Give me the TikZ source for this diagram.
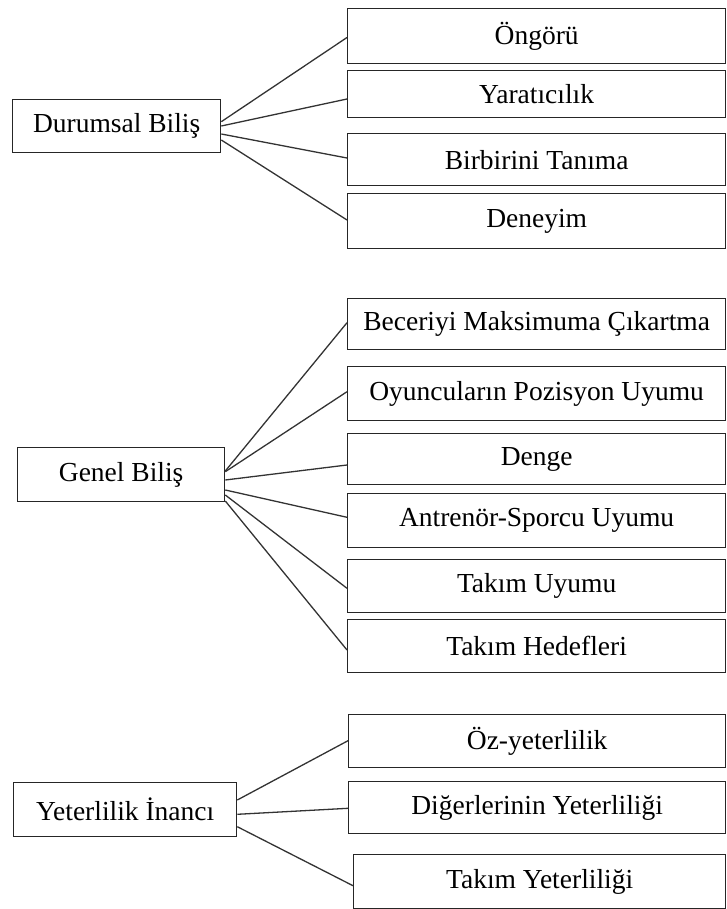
\documentclass[tikz,border=0pt]{standalone}
\usepackage{fontspec}
\setmainfont{Liberation Serif}
\begin{document}
\begin{tikzpicture}[x=1pt,y=-1pt,
  every node/.style={font=\fontsize{27.5}{33}\selectfont},
  box/.style={draw=black!85,line width=1.3pt,rectangle,anchor=north west,inner sep=0pt},
  link/.style={draw=black!80,line width=1.3pt}]
\useasboundingbox (0,0) rectangle (726,909);
% group 1
\node[box,minimum width=208pt,minimum height=53pt] (dur) at (12,99) {Durumsal Biliş};
\node[box,minimum width=378pt,minimum height=55pt] (ong) at (347,8) {Öngörü};
\node[box,minimum width=378pt,minimum height=47pt] (yar) at (347,70) {Yaratıcılık};
\node[box,minimum width=378pt,minimum height=52pt] (bir) at (347,133) {Birbirini Tanıma};
\node[box,minimum width=378pt,minimum height=55pt] (den) at (347,193) {Deneyim};
\draw[link] ([yshift=-22.7pt]dur.north east) -- ([yshift=-29.5pt]ong.north west);
\draw[link] ([yshift=-27pt]dur.north east) -- ([yshift=-29pt]yar.north west);
\draw[link] ([yshift=-35pt]dur.north east) -- ([yshift=-25pt]bir.north west);
\draw[link] ([yshift=-41pt]dur.north east) -- ([yshift=-27pt]den.north west);
% group 2
\node[box,minimum width=207pt,minimum height=54pt] (gen) at (17,447) {Genel Biliş};
\node[box,minimum width=378pt,minimum height=51pt] (bec) at (347,298) {Beceriyi Maksimuma Çıkartma};
\node[box,minimum width=378pt,minimum height=54pt] (oyu) at (347,366) {Oyuncuların Pozisyon Uyumu};
\node[box,minimum width=378pt,minimum height=51pt] (dng) at (347,433) {Denge};
\node[box,minimum width=378pt,minimum height=54pt] (ant) at (347,493) {Antrenör-Sporcu Uyumu};
\node[box,minimum width=378pt,minimum height=53pt] (tu) at (347,559) {Takım Uyumu};
\node[box,minimum width=378pt,minimum height=53pt] (th) at (347,619) {Takım Hedefleri};
\draw[link] ([yshift=-24pt]gen.north east) -- ([yshift=-24.7pt]bec.north west);
\draw[link] ([yshift=-24.7pt]gen.north east) -- ([yshift=-25.7pt]oyu.north west);
\draw[link] ([yshift=-33pt]gen.north east) -- ([yshift=-32pt]dng.north west);
\draw[link] ([yshift=-43pt]gen.north east) -- ([yshift=-24.3pt]ant.north west);
\draw[link] ([yshift=-48pt]gen.north east) -- ([yshift=-29.3pt]tu.north west);
\draw[link] ([yshift=-54pt]gen.north east) -- ([yshift=-31pt]th.north west);
% group 3
\node[box,minimum width=223pt,minimum height=54pt] (yet) at (13,782) {Yeterlilik İnancı};
\node[box,minimum width=377pt,minimum height=53pt] (oz) at (348,714) {Öz-yeterlilik};
\node[box,minimum width=377pt,minimum height=52pt] (dig) at (348,781) {Diğerlerinin Yeterliliği};
\node[box,minimum width=372pt,minimum height=54pt] (ty) at (353,854) {Takım Yeterliliği};
\draw[link] ([yshift=-18pt]yet.north east) -- ([yshift=-26.7pt]oz.north west);
\draw[link] ([yshift=-32.3pt]yet.north east) -- ([yshift=-27.3pt]dig.north west);
\draw[link] ([yshift=-44.7pt]yet.north east) -- ([yshift=-31.7pt]ty.north west);
\end{tikzpicture}
\end{document}
